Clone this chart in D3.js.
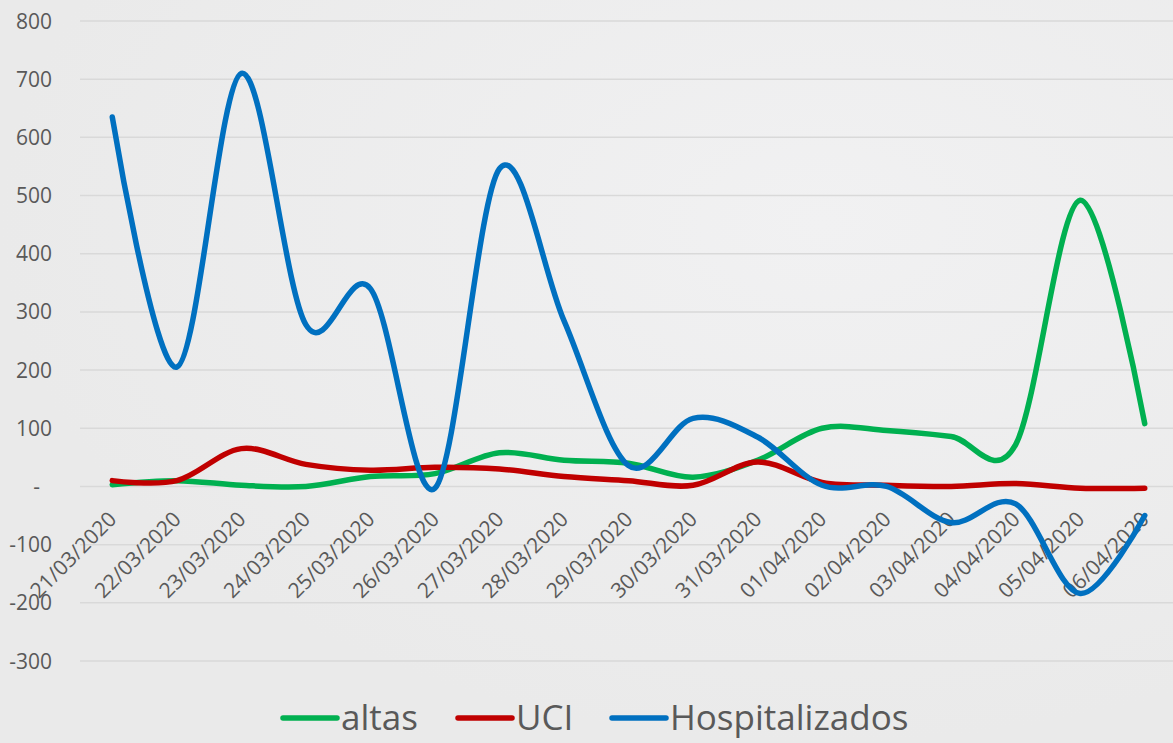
<!DOCTYPE html>
<html>
<head>
<meta charset="utf-8">
<script src="https://cdn.jsdelivr.net/npm/d3@7"></script>
<style>
  body { margin: 0; background: #ececec; }
  svg { display: block; }
  text { font-family: "Open Sans", sans-serif; fill: #595959; }
</style>
</head>
<body>
<svg id="chart" width="1173" height="743"></svg>
<script>
// data
const dates = ["21/03/2020", "22/03/2020", "23/03/2020", "24/03/2020", "25/03/2020",
    "26/03/2020", "27/03/2020", "28/03/2020", "29/03/2020", "30/03/2020", "31/03/2020",
    "01/04/2020", "02/04/2020", "03/04/2020", "04/04/2020", "05/04/2020", "06/04/2020"];
const altas = [3, 10, 2, 0, 17, 22, 58, 45, 40, 16, 45, 100, 96, 86, 72, 492, 108];
const uci = [10, 10, 65, 38, 28, 33, 30, 17, 10, 2, 42, 7, 2, 0, 5, -3, -3];
const hospitalizados = [635, 205, 710, 278, 340, -3, 546, 285, 36, 117, 85, 2, 0, -62, -30, -184, -50];
const yTicks = [-300, -200, -100, 0, 100, 200, 300, 400, 500, 600, 700, 800];

const series = [
    { name: "altas", values: altas, color: "#00b050" },
    { name: "UCI", values: uci, color: "#c00000" },
    { name: "Hospitalizados", values: hospitalizados, color: "#0070c0" }
];

const width = 1173, height = 743;
const svg = d3.select("#chart");

// soft background
let defs = svg.append("defs");
let grad = defs.append("radialGradient").attr("id", "bg").attr("cx", "70%").attr("cy", "30%").attr("r", "70%");
grad.append("stop").attr("offset", "0%").attr("stop-color", "#f1f1f2");
grad.append("stop").attr("offset", "100%").attr("stop-color", "#eaeaea");
svg.append("rect").attr("width", width).attr("height", height).attr("fill", "url(#bg)");

const x = d3.scalePoint().domain(dates).range([80, 1177]).padding(0.5);
const y = d3.scaleLinear().domain([-300, 800]).range([661, 21]);

// gridlines
svg.append("g")
    .selectAll("line")
    .data(yTicks)
    .join("line")
    .attr("x1", 80)
    .attr("x2", width)
    .attr("y1", d => y(d))
    .attr("y2", d => y(d))
    .style("stroke", "#d9d9d9")
    .style("stroke-width", 1.5);

// y labels
svg.append("g")
    .selectAll("text")
    .data(yTicks)
    .join("text")
    .attr("x", d => d == 0 ? 40 : 52)
    .attr("y", d => y(d))
    .attr("dy", "0.36em")
    .attr("text-anchor", "end")
    .style("font-size", "21px")
    .text(d => d == 0 ? "-" : d);

// x labels, rotated
svg.append("g")
    .selectAll("text")
    .data(dates)
    .join("text")
    .attr("transform", d => `translate(${x(d) - 5},${510}) rotate(-45)`)
    .attr("dy", "0.71em")
    .attr("text-anchor", "end")
    .style("font-size", "21px")
    .text(d => d);

// smoothed lines
const line = d3.line()
    .x((d, i) => x(dates[i]))
    .y(d => y(d))
    .curve(d3.curveCardinal.tension(0));

svg.append("g")
    .selectAll("path")
    .data(series)
    .join("path")
    .attr("d", d => line(d.values))
    .style("fill", "none")
    .style("stroke", d => d.color)
    .style("stroke-width", 5.5)
    .style("stroke-linecap", "round")
    .style("stroke-linejoin", "round");

// legend
const legendPos = [283, 458, 612];
let legend = svg.append("g")
    .selectAll("g")
    .data(series)
    .join("g")
    .attr("transform", (d, i) => `translate(${legendPos[i]},718)`);
legend.append("line")
    .attr("x1", 0)
    .attr("x2", 54)
    .style("stroke", d => d.color)
    .style("stroke-width", 5.5)
    .style("stroke-linecap", "round");
legend.append("text")
    .attr("x", 58)
    .attr("dy", "0.34em")
    .style("font-size", "35px")
    .text(d => d.name);
</script>
</body>
</html>
